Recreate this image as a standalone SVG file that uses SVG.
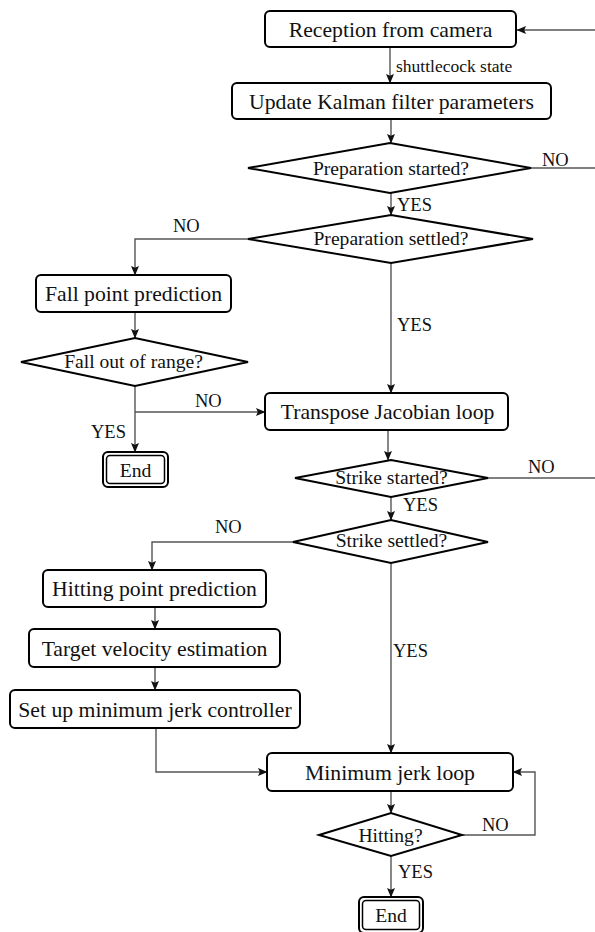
<svg xmlns="http://www.w3.org/2000/svg" width="595" height="932" viewBox="0 0 595 932" font-family="'Liberation Serif', serif">
<defs>
<marker id="ah" markerUnits="userSpaceOnUse" markerWidth="10" markerHeight="8" refX="9" refY="4" orient="auto">
<path d="M0,0 L9.5,4 L0,8 L1.8,4 Z" fill="#111"/>
</marker>
<style>
.box{fill:#fff;stroke:#000;stroke-width:2}
.dia{fill:#fff;stroke:#000;stroke-width:2;stroke-linejoin:miter}
.ln{fill:none;stroke:#555;stroke-width:1.4}
.ar{marker-end:url(#ah)}
text{font-family:'Liberation Serif',serif;fill:#111}
.t{font-size:21.7px;text-anchor:middle}
.d{font-size:19.6px;text-anchor:middle}
.l{font-size:18.5px}
.s{font-size:17.5px}
.in{fill:none;stroke:#000;stroke-width:1.5}
</style>
</defs>
<rect width="595" height="932" fill="#fff"/>
<g id="connectors">
<path class="ln ar" d="M595,30 L517,30"/>
<path class="ln ar" d="M390,47 L390,83"/>
<text class="s" x="396" y="72">shuttlecock state</text>
<path class="ln ar" d="M391,119 L391,143"/>
<path class="ln" d="M530,168 L595,168"/>
<text class="l" x="542" y="166">NO</text>
<path class="ln ar" d="M391,193 L391,215"/>
<text class="l" x="397" y="211">YES</text>
<path class="ln ar" d="M248,239 L135,239 L135,275"/>
<text class="l" x="173" y="232">NO</text>
<path class="ln ar" d="M391,263 L391,393"/>
<text class="l" x="397" y="331">YES</text>
<path class="ln ar" d="M135,312 L135,338"/>
<path class="ln ar" d="M135,386 L135,452"/>
<text class="l" x="91" y="438">YES</text>
<path class="ln ar" d="M135,412 L265,412"/>
<text class="l" x="195" y="407">NO</text>
<path class="ln ar" d="M388,430 L388,460"/>
<path class="ln" d="M488,478 L595,478"/>
<text class="l" x="528" y="473">NO</text>
<path class="ln ar" d="M391,497 L391,520"/>
<text class="l" x="403" y="511">YES</text>
<path class="ln ar" d="M293,542 L152,542 L152,570"/>
<text class="l" x="215" y="533">NO</text>
<path class="ln ar" d="M155,607 L155,629"/>
<path class="ln ar" d="M155,667 L155,690"/>
<path class="ln ar" d="M156,728 L156,772 L267,772"/>
<path class="ln ar" d="M391,563 L391,753"/>
<text class="l" x="393" y="657">YES</text>
<path class="ln ar" d="M391,791 L391,813"/>
<path class="ln ar" d="M462,835 L535,835 L535,772 L513,772"/>
<text class="l" x="482" y="831">NO</text>
<path class="ln ar" d="M391,856 L391,897"/>
<text class="l" x="398" y="878">YES</text>
</g>
<g id="reception">
<rect class="box" x="265" y="11" width="251" height="36" rx="5"/>
<text class="t" x="390.5" y="37">Reception from camera</text>
</g>
<g id="kalman">
<rect class="box" x="232" y="83" width="319" height="36" rx="5"/>
<text class="t" x="391.5" y="109">Update Kalman filter parameters</text>
</g>
<g id="prep-started">
<polygon class="dia" points="248,168 390,143 531,168 390,193"/>
<text class="d" x="391" y="175">Preparation started?</text>
</g>
<g id="prep-settled">
<polygon class="dia" points="248,239 391,215 533,239 391,263"/>
<text class="d" x="391" y="245">Preparation settled?</text>
</g>
<g id="fall-point">
<rect class="box" x="36" y="275" width="195" height="37" rx="5"/>
<text class="t" x="133.5" y="301">Fall point prediction</text>
</g>
<g id="fall-range">
<polygon class="dia" points="21,362 135,338 248,362 135,386"/>
<text class="d" x="133.5" y="368">Fall out of range?</text>
</g>
<g id="end1">
<rect class="box" x="103" y="452" width="65" height="35" rx="5"/>
<rect class="in" x="106.5" y="455.5" width="58" height="28" rx="3.5"/>
<text class="d" x="135.5" y="477">End</text>
</g>
<g id="transpose">
<rect class="box" x="265" y="393" width="243" height="37" rx="5"/>
<text class="t" x="387.5" y="419">Transpose Jacobian loop</text>
</g>
<g id="strike-started">
<polygon class="dia" points="295,478 391,460 488,478 391,497"/>
<text class="d" x="391.5" y="484">Strike started?</text>
</g>
<g id="strike-settled">
<polygon class="dia" points="293,542 391,520 488,542 391,563"/>
<text class="d" x="391.5" y="547">Strike settled?</text>
</g>
<g id="hitting-point">
<rect class="box" x="43" y="570" width="223" height="37" rx="5"/>
<text class="t" x="154.5" y="596">Hitting point prediction</text>
</g>
<g id="target-velocity">
<rect class="box" x="29" y="629" width="251" height="38" rx="5"/>
<text class="t" x="154.5" y="656">Target velocity estimation</text>
</g>
<g id="setup-jerk">
<rect class="box" x="10" y="690" width="290" height="38" rx="5"/>
<text class="t" x="155" y="716.5">Set up minimum jerk controller</text>
</g>
<g id="min-jerk">
<rect class="box" x="267" y="753" width="246" height="38" rx="5"/>
<text class="t" x="390" y="779.5">Minimum jerk loop</text>
</g>
<g id="hitting">
<polygon class="dia" points="319,835 391,813 462,835 391,856"/>
<text class="d" x="390.5" y="842">Hitting?</text>
</g>
<g id="end2">
<rect class="box" x="359" y="897" width="64" height="36" rx="5"/>
<rect class="in" x="362.5" y="900.5" width="57" height="29" rx="3.5"/>
<text class="d" x="391" y="922">End</text>
</g>
</svg>
